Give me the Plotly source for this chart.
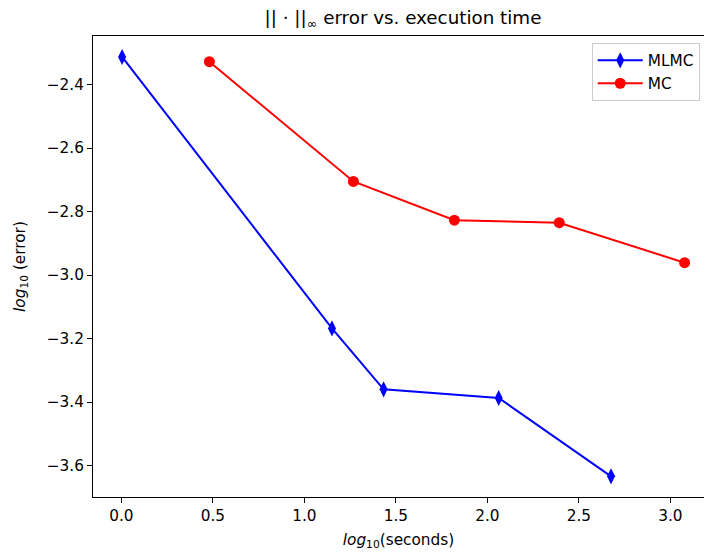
import plotly.graph_objects as go

mlmc_x = [0.004, 1.151, 1.433, 2.062, 2.676]
mlmc_y = [-2.313, -3.168, -3.360, -3.387, -3.634]
mc_x = [0.481, 1.268, 1.820, 2.393, 3.078]
mc_y = [-2.328, -2.705, -2.827, -2.835, -2.961]

x_ticks = [0.0, 0.5, 1.0, 1.5, 2.0, 2.5, 3.0]
y_ticks = [-2.4, -2.6, -2.8, -3.0, -3.2, -3.4, -3.6]

FONT = "DejaVu Sans"
FS = 15.3

fig = go.Figure()
fig.add_trace(go.Scatter(
    x=mlmc_x, y=mlmc_y, mode="lines+markers", name="MLMC",
    line=dict(color="#0000ff", width=2),
    marker=dict(symbol="diamond-tall", size=11.5, color="#0000ff"),
))
fig.add_trace(go.Scatter(
    x=mc_x, y=mc_y, mode="lines+markers", name="MC",
    line=dict(color="#ff0000", width=2),
    marker=dict(symbol="circle", size=11, color="#ff0000"),
))

fig.update_layout(
    width=704, height=552,
    margin=dict(l=93, r=0, t=36, b=55),
    paper_bgcolor="white", plot_bgcolor="white",
    font=dict(family=FONT, size=FS, color="black"),
    title=dict(text="|| · ||<sub>∞</sub> error vs. execution time",
               x=403 / 704, xanchor="center", y=1 - 18 / 552, yanchor="middle",
               font=dict(size=18.3, family=FONT, color="black")),
    legend=dict(x=0.993, xanchor="right", y=0.985, yanchor="top",
                bgcolor="rgba(255,255,255,0.8)", bordercolor="#cccccc", borderwidth=1,
                font=dict(size=FS, family=FONT), tracegroupgap=2, itemwidth=45),
    showlegend=True,
)
fig.update_xaxes(
    range=[-0.155, 3.184], tickvals=x_ticks, tickformat=".1f",
    showgrid=False, zeroline=False,
    showline=True, linecolor="black", linewidth=1, mirror=True,
    ticks="outside", ticklen=5, tickcolor="black", tickwidth=1,
    tickfont=dict(size=FS),
    title=dict(text="<i>log</i><sub>10</sub>(seconds)", standoff=9,
               font=dict(size=FS, family=FONT)),
)
fig.update_yaxes(
    range=[-3.699, -2.247], tickvals=y_ticks, tickformat=".1f",
    showgrid=False, zeroline=False,
    showline=True, linecolor="black", linewidth=1, mirror=False,
    ticks="outside", ticklen=5, tickcolor="black", tickwidth=1,
    tickfont=dict(size=FS),
    title=dict(text="<i>log</i><sub>10</sub> (error)", standoff=17,
               font=dict(size=FS, family=FONT)),
)

fig.write_html("out.html")
